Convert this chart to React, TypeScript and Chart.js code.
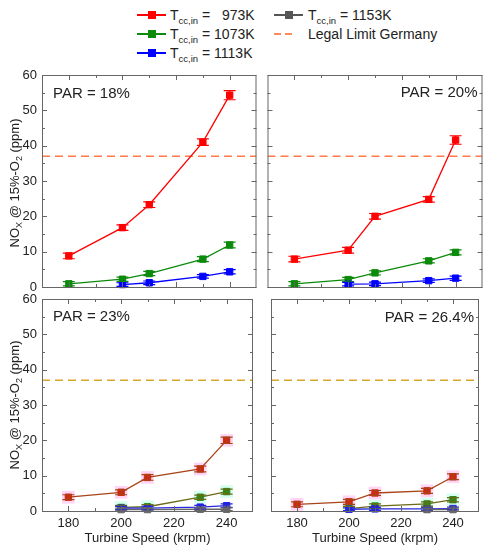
import React, { useEffect, useRef } from "react";
import { Chart, registerables } from "chart.js";

Chart.register(...registerables);

// ---------- data ----------
const SPEEDS = [180, 200, 210, 230, 240];
const X_TICKS = [180, 200, 220, 240];
const Y_TICKS = [0, 10, 20, 30, 40, 50, 60];
const LEGAL_LIMIT = 37;
const PANEL_LABELS = ["PAR = 18%", "PAR = 20%", "PAR = 23%", "PAR = 26.4%"];
const TEMPS = ["973K", "1073K", "1113K", "1153K"];

// PAR = 18%
const PAR18_973 = [8.8, 16.8, 23.3, 41.0, 54.3];
const PAR18_973_ERR = [0.8, 0.8, 0.8, 0.9, 1.3];
const PAR18_1073 = [0.9, 2.2, 3.8, 7.9, 11.9];
const PAR18_1073_ERR = [0.6, 0.6, 0.6, 0.7, 0.8];
const PAR18_1113 = [null, 0.7, 1.2, 3.0, 4.3];
const PAR18_1113_ERR = [0, 0.5, 0.5, 0.5, 0.6];
const PAR18_1153: (number | null)[] = [null, null, null, null, null];
const PAR18_1153_ERR = [0, 0, 0, 0, 0];

// PAR = 20%
const PAR20_973 = [7.9, 10.4, 20.0, 24.8, 41.6];
const PAR20_973_ERR = [0.8, 0.8, 0.8, 0.8, 1.2];
const PAR20_1073 = [0.9, 2.1, 4.0, 7.4, 9.8];
const PAR20_1073_ERR = [0.6, 0.6, 0.6, 0.6, 0.7];
const PAR20_1113 = [null, 0.8, 0.9, 1.8, 2.5];
const PAR20_1113_ERR = [0, 0.5, 0.5, 0.5, 0.6];
const PAR20_1153: (number | null)[] = [null, null, null, null, null];
const PAR20_1153_ERR = [0, 0, 0, 0, 0];

// PAR = 23%
const PAR23_973 = [3.9, 5.3, 9.5, 11.9, 20.0];
const PAR23_973_ERR = [0.7, 0.7, 0.8, 0.8, 0.9];
const PAR23_1073 = [null, 1.0, 1.2, 3.9, 5.5];
const PAR23_1073_ERR = [0, 0.6, 0.6, 0.6, 0.7];
const PAR23_1113 = [null, 0.8, 0.8, 1.1, 1.5];
const PAR23_1113_ERR = [0, 0.5, 0.5, 0.5, 0.5];
const PAR23_1153 = [null, 0.4, 0.4, 0.5, 0.5];
const PAR23_1153_ERR = [0, 0.4, 0.4, 0.4, 0.4];

// PAR = 26.4%
const PAR26_973 = [1.9, 2.6, 5.1, 5.7, 9.7];
const PAR26_973_ERR = [0.7, 0.7, 0.7, 0.7, 0.8];
const PAR26_1073 = [null, 0.7, 1.4, 2.0, 3.2];
const PAR26_1073_ERR = [0, 0.6, 0.6, 0.6, 0.6];
const PAR26_1113 = [null, 0.5, 0.6, 0.6, 0.7];
const PAR26_1113_ERR = [0, 0.4, 0.4, 0.4, 0.4];
const PAR26_1153 = [null, null, null, 0.4, 0.4];
const PAR26_1153_ERR = [0, 0, 0, 0.4, 0.4];

// ---------- styling ----------
const FONT = '"Liberation Sans", Arial, Helvetica, sans-serif';
const TOP_COLORS = {
  line: ["#ff0000", "#0c8a0c", "#0000ff", "#555555"],
  point: ["#ff0000", "#0c8a0c", "#0000ff", "#555555"],
};
const BOTTOM_COLORS = {
  line: ["#a84418", "#6a6a18", "#2626e0", "#666666"],
  point: ["#cc2a10", "#2c8a14", "#1f1fe8", "#666666"],
  halo: ["rgba(255,150,230,0.4)", "rgba(150,255,215,0.4)", null, null],
};

type PanelCfg = {
  left: number;
  top: number;
  w: number;
  h: number;
  padTop: number;
  padRight: number;
  yw: number;
  xh: number;
  showX: boolean;
  showY: boolean;
  values: (number | null)[][];
  errors: number[][];
  bottom: boolean;
  label: string;
  labelAlign: "left" | "right";
  labelDx: number;
  labelDy: number;
};

const PANELS: PanelCfg[] = [
  {
    left: 0, top: 60, w: 262, h: 240, padTop: 15, padRight: 5, yw: 42, xh: 13,
    showX: false, showY: true,
    values: [PAR18_973, PAR18_1073, PAR18_1113, PAR18_1153],
    errors: [PAR18_973_ERR, PAR18_1073_ERR, PAR18_1113_ERR, PAR18_1153_ERR],
    bottom: false, label: PANEL_LABELS[0], labelAlign: "left", labelDx: 11, labelDy: 19,
  },
  {
    left: 262, top: 60, w: 226, h: 240, padTop: 15, padRight: 5, yw: 5, xh: 13,
    showX: false, showY: false,
    values: [PAR20_973, PAR20_1073, PAR20_1113, PAR20_1153],
    errors: [PAR20_973_ERR, PAR20_1073_ERR, PAR20_1113_ERR, PAR20_1153_ERR],
    bottom: false, label: PANEL_LABELS[1], labelAlign: "right", labelDx: -5, labelDy: 18,
  },
  {
    left: 0, top: 284, w: 262, h: 266, padTop: 15, padRight: 5, yw: 42, xh: 39,
    showX: true, showY: true,
    values: [PAR23_973, PAR23_1073, PAR23_1113, PAR23_1153],
    errors: [PAR23_973_ERR, PAR23_1073_ERR, PAR23_1113_ERR, PAR23_1153_ERR],
    bottom: true, label: PANEL_LABELS[2], labelAlign: "left", labelDx: 11, labelDy: 18,
  },
  {
    left: 262, top: 284, w: 226, h: 266, padTop: 15, padRight: 5, yw: 5, xh: 39,
    showX: true, showY: false,
    values: [PAR26_973, PAR26_1073, PAR26_1113, PAR26_1153],
    errors: [PAR26_973_ERR, PAR26_1073_ERR, PAR26_1113_ERR, PAR26_1153_ERR],
    bottom: true, label: PANEL_LABELS[3], labelAlign: "right", labelDx: -5, labelDy: 19,
  },
];

const minors = (arr: number[]) =>
  arr.slice(0, -1).map((v, i) => (v + arr[i + 1]) / 2);

const decorPlugin = {
  id: "decor",
  afterDatasetsDraw(chart: any) {
    const { ctx, scales } = chart;
    const x = scales.x;
    const y = scales.y;
    ctx.save();
    chart.data.datasets.forEach((ds: any) => {
      if (!ds.withErrors) return;
      ctx.strokeStyle = ds.borderColor;
      ctx.lineWidth = 1.2;
      ds.data.forEach((p: any) => {
        if (!p.e) return;
        const px = x.getPixelForValue(p.x);
        const y1 = y.getPixelForValue(p.y + p.e);
        const y2 = y.getPixelForValue(Math.max(0, p.y - p.e));
        ctx.beginPath();
        ctx.moveTo(px, y1);
        ctx.lineTo(px, y2);
        ctx.moveTo(px - 6, y1);
        ctx.lineTo(px + 6, y1);
        ctx.moveTo(px - 6, y2);
        ctx.lineTo(px + 6, y2);
        ctx.stroke();
      });
    });
    ctx.restore();
  },
  afterDraw(chart: any, _args: any, opts: any) {
    const { ctx, chartArea: a, scales } = chart;
    const x = scales.x;
    const y = scales.y;
    ctx.save();
    ctx.strokeStyle = "#666";
    ctx.lineWidth = 1;
    ctx.strokeRect(a.left + 0.5, a.top + 0.5, a.right - a.left - 1, a.bottom - a.top);
    ctx.beginPath();
    const xt = (v: number, len: number) => {
      const px = Math.round(x.getPixelForValue(v)) + 0.5;
      ctx.moveTo(px, a.bottom);
      ctx.lineTo(px, a.bottom - len);
      ctx.moveTo(px, a.top);
      ctx.lineTo(px, a.top + len);
    };
    const yt = (v: number, len: number) => {
      const py = Math.round(y.getPixelForValue(v)) + 0.5;
      ctx.moveTo(a.left, py);
      ctx.lineTo(a.left + len, py);
      ctx.moveTo(a.right, py);
      ctx.lineTo(a.right - len, py);
    };
    X_TICKS.forEach((v) => xt(v, 5));
    minors(X_TICKS).forEach((v) => xt(v, 3));
    Y_TICKS.forEach((v) => yt(v, 5));
    minors(Y_TICKS).forEach((v) => yt(v, 3));
    ctx.stroke();

    ctx.fillStyle = "#222";
    ctx.font = `15px ${FONT}`;
    ctx.textBaseline = "middle";
    ctx.textAlign = opts.align;
    const tx = opts.align === "left" ? a.left + opts.dx : a.right + opts.dx;
    ctx.fillText(opts.text, tx, a.top + opts.dy);
    ctx.restore();
  },
};

function buildDatasets(cfg: PanelCfg) {
  const pal = cfg.bottom ? BOTTOM_COLORS : TOP_COLORS;
  const ds: any[] = [];
  ds.push({
    label: "Legal Limit Germany",
    data: [
      { x: 170, y: LEGAL_LIMIT },
      { x: 250, y: LEGAL_LIMIT },
    ],
    borderColor: cfg.bottom ? "#d8a62a" : "#ff7a48",
    borderWidth: 1.4,
    borderDash: [8, 5],
    pointRadius: 0,
    order: 20,
  });
  cfg.values.forEach((vals, si) => {
    const pts = SPEEDS.map((s, i) => ({ x: s, y: vals[i], e: cfg.errors[si][i] })).filter(
      (p) => p.y !== null && p.y !== undefined
    );
    if (!pts.length) return;
    const halo = cfg.bottom ? (BOTTOM_COLORS.halo[si] as string | null) : null;
    if (halo) {
      ds.push({
        label: "halo" + si,
        data: pts.map((p) => ({ x: p.x, y: p.y })),
        showLine: false,
        pointStyle: "rect",
        pointRadius: 9,
        pointBackgroundColor: halo,
        pointBorderWidth: 0,
        order: 15,
      });
    }
    ds.push({
      label: "Tcc,in = " + TEMPS[si],
      data: pts,
      withErrors: true,
      borderColor: pal.line[si],
      borderWidth: 1.3,
      pointStyle: "rect",
      pointRadius: 4.5,
      pointBackgroundColor: pal.point[si],
      pointBorderColor: pal.point[si],
      pointBorderWidth: 1,
      order: 10 - si,
      clip: 6,
    });
  });
  return ds;
}

function PanelChart({ cfg }: { cfg: PanelCfg }) {
  const ref = useRef<HTMLCanvasElement>(null);
  useEffect(() => {
    const chart = new Chart(ref.current as HTMLCanvasElement, {
      type: "line",
      data: { datasets: buildDatasets(cfg) },
      options: {
        animation: false,
        responsive: false,
        layout: { padding: { top: cfg.padTop, right: cfg.padRight, left: 0, bottom: 0 } },
        plugins: {
          legend: { display: false },
          tooltip: { enabled: false },
          decor: { text: cfg.label, align: cfg.labelAlign, dx: cfg.labelDx, dy: cfg.labelDy },
        } as any,
        scales: {
          x: {
            type: "linear",
            min: 170,
            max: 250,
            afterBuildTicks: (s: any) => {
              s.ticks = X_TICKS.map((v) => ({ value: v }));
            },
            afterFit: (s: any) => {
              s.height = cfg.xh;
            },
            grid: { display: false, drawTicks: false },
            border: { display: false },
            ticks: {
              display: cfg.showX,
              padding: 5,
              color: "#222",
              font: { family: FONT, size: 13 },
            },
            title: {
              display: cfg.showX,
              text: "Turbine Speed (krpm)",
              color: "#222",
              font: { family: FONT, size: 13 },
              padding: { top: 0, bottom: 4 },
            },
          },
          y: {
            type: "linear",
            min: 0,
            max: 60,
            afterBuildTicks: (s: any) => {
              s.ticks = Y_TICKS.map((v) => ({ value: v }));
            },
            afterFit: (s: any) => {
              s.width = cfg.yw;
            },
            grid: { display: false, drawTicks: false },
            border: { display: false },
            ticks: {
              display: cfg.showY,
              padding: 5,
              color: "#222",
              font: { family: FONT, size: 13 },
            },
          },
        },
      } as any,
      plugins: [decorPlugin as any],
    });
    return () => chart.destroy();
  }, [cfg]);
  return (
    <canvas
      ref={ref}
      width={cfg.w}
      height={cfg.h}
      style={{ position: "absolute", left: cfg.left, top: cfg.top, width: cfg.w, height: cfg.h }}
    />
  );
}

function LegendMarker({ color, x, y }: { color: string; x: number; y: number }) {
  return (
    <div style={{ position: "absolute", left: x, top: y - 1, width: 29, height: 1.6, background: color }}>
      <div
        style={{
          position: "absolute",
          left: 10.5,
          top: -3.2,
          width: 8,
          height: 8,
          background: color,
        }}
      />
    </div>
  );
}

function TccLabel({ temp, x, y, pad }: { temp: string; x: number; y: number; pad?: boolean }) {
  return (
    <div
      style={{
        position: "absolute",
        left: x,
        top: y - 9,
        fontFamily: FONT,
        fontSize: 14,
        lineHeight: "18px",
        color: "#222",
        whiteSpace: "pre",
      }}
    >
      T<span style={{ fontSize: 9.5, position: "relative", top: 4 }}>cc,in</span>
      {" = "}
      {pad ? "\u2007" : ""}
      {temp}
    </div>
  );
}

export default function App() {
  const rows = [15, 34, 53];
  return (
    <div
      style={{
        position: "absolute",
        left: 0,
        top: 0,
        width: 488,
        height: 550,
        background: "#fff",
        overflow: "hidden",
      }}
    >
      {/* legend */}
      <LegendMarker color={TOP_COLORS.line[0]} x={137} y={rows[0]} />
      <TccLabel temp={TEMPS[0]} x={170} y={rows[0]} pad />
      <LegendMarker color="#0c8a0c" x={137} y={rows[1]} />
      <TccLabel temp={TEMPS[1]} x={170} y={rows[1]} />
      <LegendMarker color={TOP_COLORS.line[2]} x={137} y={rows[2]} />
      <TccLabel temp={TEMPS[2]} x={170} y={rows[2]} />
      <LegendMarker color="#555555" x={274} y={rows[0]} />
      <TccLabel temp={TEMPS[3]} x={308} y={rows[0]} />
      <div style={{ position: "absolute", left: 274, top: rows[1] - 0.8, width: 7, height: 1.6, background: "#ff8a5a" }} />
      <div style={{ position: "absolute", left: 285, top: rows[1] - 0.8, width: 7, height: 1.6, background: "#ff8a5a" }} />
      <div
        style={{
          position: "absolute",
          left: 308,
          top: rows[1] - 9,
          fontFamily: FONT,
          fontSize: 14,
          lineHeight: "18px",
          color: "#222",
          whiteSpace: "pre",
        }}
      >
        Legal Limit Germany
      </div>

      {PANELS.map((p, i) => (
        <PanelChart key={i} cfg={p} />
      ))}

      {/* y-axis titles */}
      {[183, 405].map((cy, i) => (
        <div
          key={i}
          style={{
            position: "absolute",
            left: 15,
            top: cy,
            transform: "translate(-50%, -50%) rotate(-90deg)",
            fontFamily: FONT,
            fontSize: 13,
            lineHeight: "16px",
            color: "#222",
            whiteSpace: "nowrap",
          }}
        >
          NO<span style={{ fontSize: 9, position: "relative", top: 3 }}>X</span> @ 15%-O
          <span style={{ fontSize: 9, position: "relative", top: 3 }}>2</span> (ppm)
        </div>
      ))}
    </div>
  );
}
